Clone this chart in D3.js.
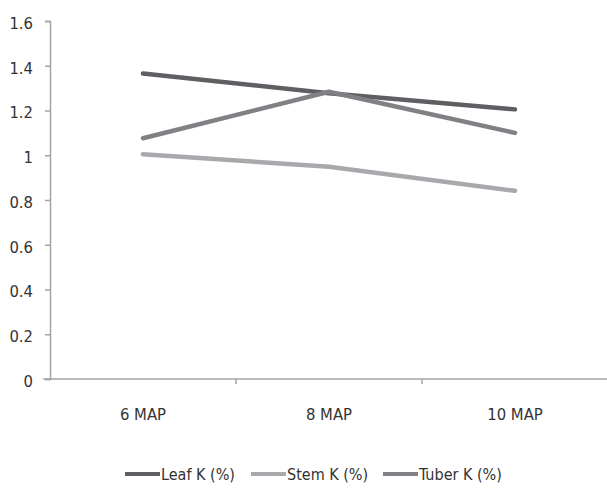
<!DOCTYPE html>
<html><head><meta charset="utf-8">
<script src="https://cdn.jsdelivr.net/npm/d3@7"></script>
<style>
body{margin:0;background:#fff;}
text{font-family:"Liberation Sans Narrow","DejaVu Sans Condensed","Open Sans",sans-serif;fill:#333;}
</style></head><body>
<svg id="c" width="607" height="488"></svg>
<script>
const categories = ["6 MAP", "8 MAP", "10 MAP"];
const leafK = [1.365, 1.277, 1.205];
const stemK = [1.004, 0.949, 0.841];
const tuberK = [1.076, 1.284, 1.10];
const yTicks = [0, 0.2, 0.4, 0.6, 0.8, 1, 1.2, 1.4, 1.6];
const seriesNames = ["Leaf K (%)", "Stem K (%)", "Tuber K (%)"];

(function(){
const series = [
  {name: seriesNames[0], values: leafK, color: "#5f5f63"},
  {name: seriesNames[1], values: stemK, color: "#a9a9ad"},
  {name: seriesNames[2], values: tuberK, color: "#818185"}
];

const svg = d3.select("#c");
const mLeft = 50, mRight = 608, mTop = 21, mBottom = 379;
const x = d3.scaleBand().domain(categories).range([mLeft, mRight]);
const y = d3.scaleLinear().domain([0, 1.6]).range([mBottom, mTop]);
const axisColor = "#a3a3a7";

// y axis
const ya = svg.append("g").attr("transform", `translate(${mLeft},0)`)
  .call(d3.axisLeft(y).tickValues(yTicks).tickSize(5).tickPadding(12).tickFormat(d => String(+d.toFixed(1))));
ya.select(".domain").attr("stroke", axisColor).attr("stroke-width", 1.5);
ya.selectAll(".tick line").attr("stroke", axisColor).attr("stroke-width", 1.5);
ya.selectAll(".tick text").attr("font-size", 16.5).attr("dy", "0.45em").style("fill", "#333");

// x axis
const xa = svg.append("g").attr("transform", `translate(0,${mBottom})`)
  .call(d3.axisBottom(x).tickSize(0).tickPadding(29));
xa.select(".domain").remove();
xa.append("line").attr("x1", mLeft - 7).attr("x2", 607).attr("y1", 0).attr("y2", 0)
  .attr("stroke", axisColor).attr("stroke-width", 1.5);
xa.selectAll(".tick text").attr("font-size", 16.5).style("fill", "#333");
const bounds = categories.map(c => x(c));
bounds.slice(1).forEach(b => {
  xa.append("line").attr("x1", b).attr("x2", b).attr("y1", 0).attr("y2", 5)
    .attr("stroke", axisColor).attr("stroke-width", 1.5);
});

// lines
const line = d3.line().x((d, i) => x(categories[i]) + x.bandwidth()/2).y(d => y(d));
series.forEach(s => {
  svg.append("path").datum(s.values).attr("d", line)
    .attr("fill", "none").attr("stroke", s.color).attr("stroke-width", 4.5)
    .attr("stroke-linecap", "round").attr("stroke-linejoin", "round");
});

// legend
const legX = [125, 251, 383];
const ly = 474;
series.forEach((s, i) => {
  const g = svg.append("g").attr("transform", `translate(${legX[i]},${ly})`);
  g.append("line").attr("x1", 0).attr("x2", 35).attr("y1", 0).attr("y2", 0)
    .attr("stroke", s.color).attr("stroke-width", 4);
  g.append("text").attr("x", 36).attr("y", 0).attr("dy", "0.35em")
    .attr("font-size", 16).text(s.name);
});
})();
</script>
</body></html>
